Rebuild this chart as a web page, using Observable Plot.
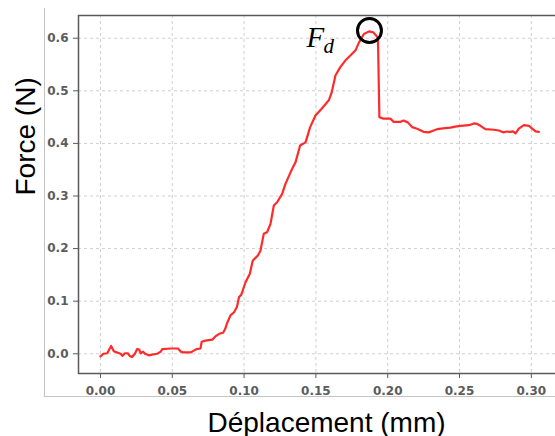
<!DOCTYPE html>
<html><head><meta charset="utf-8">
<script src="https://cdn.jsdelivr.net/npm/d3@7"></script>
<script src="https://cdn.jsdelivr.net/npm/@observablehq/plot@0.6"></script>
<style>
body{margin:0;background:#fff;overflow:hidden}
#wrap{position:relative;width:555px;height:436px;overflow:hidden;background:#fff}
#box{position:absolute;left:44px;top:8px;width:600px;height:388px;border-left:1px solid #c4c4c4;border-bottom:1px solid #c4c4c4}
#chart{position:absolute;left:0;top:0;width:565px;height:436px}
#chart svg{max-width:none !important;width:565px;height:436px}
#chart svg g[aria-label*="tick label"] text{font-weight:700 !important;fill:#5c5c5c !important;font-size:12px !important;font-family:"DejaVu Sans" !important}
</style></head><body>
<div id="wrap"><div id="box"></div><div id="chart"></div></div>
<script>
const displacement = [0.000,0.002,0.0047,0.0074,0.0093,0.0116,0.014,0.0153,0.017,0.019,0.0204,0.022,0.024,0.0255,0.027,0.028,0.0297,0.031,0.034,0.037,0.0395,0.042,0.043,0.049,0.054,0.056,0.058,0.0627,0.065,0.067,0.0696,0.0705,0.073,0.078,0.080,0.0827,0.0854,0.0868,0.088,0.0905,0.093,0.095,0.0965,0.098,0.101,0.104,0.106,0.1096,0.1114,0.1137,0.116,0.1184,0.1207,0.123,0.1265,0.1288,0.1335,0.1358,0.139,0.1428,0.146,0.1497,0.154,0.159,0.161,0.1636,0.167,0.1706,0.174,0.1776,0.180,0.1834,0.187,0.190,0.192,0.1932,0.1942,0.197,0.202,0.204,0.209,0.211,0.214,0.217,0.2205,0.225,0.2286,0.232,0.2344,0.240,0.2437,0.247,0.2507,0.2565,0.260,0.2623,0.2646,0.268,0.274,0.2774,0.2804,0.283,0.2855,0.2873,0.289,0.2913,0.2948,0.2983,0.3006,0.303,0.3052];
const force = [-0.005,0.000,0.001,0.015,0.005,0.0025,0.000,-0.004,0.001,0.001,-0.004,-0.006,0.000,0.009,0.008,0.001,0.004,0.000,-0.003,-0.001,0.000,0.004,0.009,0.010,0.010,0.004,0.0025,0.0025,0.006,0.009,0.010,0.023,0.025,0.027,0.033,0.038,0.040,0.047,0.057,0.073,0.079,0.089,0.108,0.112,0.136,0.152,0.177,0.187,0.196,0.228,0.231,0.247,0.282,0.288,0.304,0.323,0.352,0.364,0.396,0.402,0.431,0.453,0.466,0.482,0.497,0.529,0.545,0.558,0.567,0.577,0.592,0.608,0.613,0.611,0.605,0.600,0.450,0.447,0.447,0.441,0.441,0.4435,0.440,0.431,0.428,0.422,0.421,0.4245,0.427,0.429,0.430,0.432,0.4335,0.4346,0.438,0.437,0.4335,0.427,0.426,0.4245,0.421,0.4226,0.422,0.423,0.419,0.428,0.4346,0.4335,0.428,0.423,0.422];
const xTicks = [0, 0.05, 0.10, 0.15, 0.20, 0.25, 0.30];
const yTicks = [0, 0.1, 0.2, 0.3, 0.4, 0.5, 0.6];
const peakX = [0.1873];
const peakY = [0.6147];
const xLabel = "Déplacement (mm)";
const yLabel = "Force (N)";

const curve = displacement.map((d, i) => ({x: d, y: force[i]}));
const peak = peakX.map((d, i) => ({x: d, y: peakY[i]}));

const chart = Plot.plot({
  width: 565, height: 436,
  marginLeft: 78, marginRight: 0, marginTop: 15, marginBottom: 63,
  x: {domain: [-0.0153, 0.3238]},
  y: {domain: [-0.0375, 0.6432]},
  style: {background: "transparent", fontFamily: "DejaVu Sans", overflow: "visible", maxWidth: "none"},
  marks: [
    Plot.gridX(xTicks, {stroke: "#cfcfcf", strokeOpacity: 1, strokeDasharray: "3,3"}),
    Plot.gridY(yTicks, {stroke: "#cfcfcf", strokeOpacity: 1, strokeDasharray: "3,3"}),
    Plot.frame({stroke: "#5a5a5a", strokeWidth: 1.5}),
    Plot.axisX(xTicks, {tickSize: 5, tickPadding: 8, tickFormat: d3.format(".2f"), fontSize: 12, fontWeight: "bold", label: null, stroke: "#5a5a5a", fill: "#5c5c5c"}),
    Plot.axisY(yTicks, {tickSize: 5, tickPadding: 5, tickFormat: d3.format(".1f"), fontSize: 12, fontWeight: "bold", label: null, stroke: "#5a5a5a", fill: "#5c5c5c"}),
    Plot.line(curve, {x: "x", y: "y", stroke: "#ff2b2b", strokeWidth: 2.2}),
    Plot.dot(peak, {x: "x", y: "y", r: 12, stroke: "black", strokeWidth: 3, fill: "none"}),
    Plot.text(peak, {x: "x", y: "y", text: () => "F", dx: -63, dy: 16.5, textAnchor: "start", lineAnchor: "bottom", fontSize: 29, fontStyle: "italic", fontFamily: "Liberation Serif", fill: "black"}),
    Plot.text(peak, {x: "x", y: "y", text: () => "d", dx: -46, dy: 22.5, textAnchor: "start", lineAnchor: "bottom", fontSize: 21, fontStyle: "italic", fontFamily: "Liberation Serif", fill: "black"}),
    Plot.text([xLabel], {text: d => d, frameAnchor: "bottom", dx: 4.5, dy: 58, lineAnchor: "bottom", fontSize: 28, fontFamily: "Liberation Sans", fill: "black"}),
    Plot.text([yLabel], {text: d => d, frameAnchor: "left", dx: -52, dy: 1, rotate: -90, fontSize: 28, fontFamily: "Liberation Sans", fill: "black"})
  ]
});
document.getElementById("chart").appendChild(chart);
</script>
</body></html>
